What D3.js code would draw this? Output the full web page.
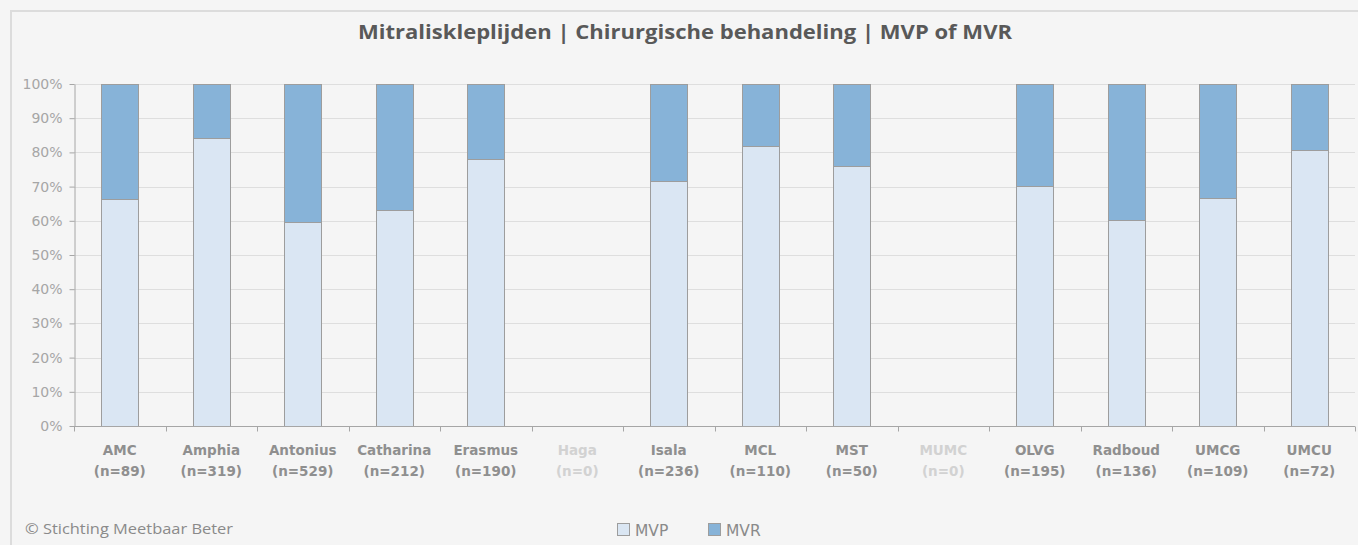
<!DOCTYPE html>
<html>
<head>
<meta charset="utf-8">
<script src="https://cdn.jsdelivr.net/npm/d3@7"></script>
<style>
  body { margin: 0; background: #f5f5f5; }
  svg { display: block; }
</style>
</head>
<body>
<div id="chart"></div>
<script>
let width = 1358
let height = 545

// hospitals, number of patients and share of MVP (%)
let hospitals = ['AMC', 'Amphia', 'Antonius', 'Catharina', 'Erasmus', 'Haga', 'Isala', 'MCL', 'MST', 'MUMC', 'OLVG', 'Radboud', 'UMCG', 'UMCU']
let counts = [89, 319, 529, 212, 190, 0, 236, 110, 50, 0, 195, 136, 109, 72]
let mvp = [66.3, 84.2, 59.6, 63.2, 78.0, 0, 71.6, 81.8, 75.9, 0, 70.2, 60.2, 66.7, 80.6]
let mvr = mvp.map((d, i) => counts[i] > 0 ? 100 - d : 0)
let yTicks = [0, 10, 20, 30, 40, 50, 60, 70, 80, 90, 100]
let series = ['MVP', 'MVR']
let colors = { MVP: '#dae6f3', MVR: '#87b3d8' }

let padding = { left: 74, right: 3, top: 84, bottom: 119 }
let labelFont = 'DejaVu Sans, Verdana, sans-serif'

let svg = d3.select('#chart')
    .append('svg')
    .attr('width', width)
    .attr('height', height)

// frame
svg.append('rect')
    .attr('x', 11)
    .attr('y', 11)
    .attr('width', width + 20)
    .attr('height', height + 20)
    .attr('fill', '#f5f5f5')
    .attr('stroke', '#dcdcdc')
    .attr('stroke-width', 2)

svg.append('text')
    .attr('x', 358)
    .attr('y', 39)
    .attr('textLength', 654)
    .attr('lengthAdjust', 'spacingAndGlyphs')
    .style('font-family', 'Open Sans')
    .style('font-weight', 'bold')
    .style('font-size', '20px')
    .attr('fill', '#595959')
    .text('Mitraliskleplijden | Chirurgische behandeling | MVP of MVR')

let x = d3.scaleBand()
    .domain(hospitals)
    .range([padding.left, width - padding.right])
    .paddingInner(0.595)
    .paddingOuter(0.2975)

let y = d3.scaleLinear()
    .domain([0, 100])
    .range([height - padding.bottom, padding.top])

// grid
svg.append('g')
    .selectAll('line')
    .data(yTicks.slice(1))
    .join('line')
    .attr('x1', padding.left)
    .attr('x2', width - padding.right)
    .attr('y1', d => Math.round(y(d)) + 0.5)
    .attr('y2', d => Math.round(y(d)) + 0.5)
    .attr('stroke', '#dedede')
    .attr('stroke-width', 1)

// y axis
let yAxis = svg.append('g')
    .attr('transform', `translate(${padding.left + 0.5},0)`)
    .call(d3.axisLeft(y).tickValues(yTicks).tickFormat(d => d + '%').tickSize(5).tickSizeOuter(0))
yAxis.select('.domain').attr('stroke', '#a6a6a6')
yAxis.selectAll('.tick line').attr('stroke', '#a6a6a6')
yAxis.selectAll('.tick text')
    .attr('x', -12)
    .attr('fill', '#a6a6a6')
    .style('font-family', labelFont)
    .style('font-size', '14px')

// stacked bars
let stackData = hospitals.map((h, i) => ({ name: h, MVP: mvp[i], MVR: mvr[i] }))
let stacked = d3.stack().keys(series)(stackData)

svg.append('g')
    .selectAll('g')
    .data(stacked)
    .join('g')
    .attr('fill', d => colors[d.key])
    .selectAll('rect')
    .data(d => d.filter(s => s[1] - s[0] > 0))
    .join('rect')
    .attr('x', d => Math.round(x(d.data.name)) + 0.5)
    .attr('width', Math.round(x.bandwidth()))
    .attr('y', d => Math.round(y(d[1])) + 0.5)
    .attr('height', d => Math.round(y(d[0])) - Math.round(y(d[1])))
    .attr('stroke', '#9d9d9d')
    .attr('stroke-width', 1)

// x axis
let step = x.step()
let xAxis = svg.append('g')
    .attr('transform', `translate(0,${Math.round(y(0)) + 0.5})`)
xAxis.append('line')
    .attr('x1', padding.left)
    .attr('x2', width - padding.right)
    .attr('stroke', '#a6a6a6')
xAxis.selectAll('.tick')
    .data(d3.range(hospitals.length + 1))
    .join('line')
    .attr('x1', i => Math.round(padding.left + i * step) + 0.5)
    .attr('x2', i => Math.round(padding.left + i * step) + 0.5)
    .attr('y1', 0)
    .attr('y2', 5)
    .attr('stroke', '#a6a6a6')

let labels = svg.append('g')
    .selectAll('text')
    .data(hospitals)
    .join('text')
    .attr('x', d => x(d) + x.bandwidth() / 2)
    .attr('y', 455)
    .attr('text-anchor', 'middle')
    .style('font-family', labelFont)
    .style('font-weight', 'bold')
    .style('font-size', '13.5px')
    .attr('fill', (d, i) => counts[i] > 0 ? '#8f8f8f' : '#d2d2d2')
labels.append('tspan').text(d => d)
labels.append('tspan')
    .attr('x', d => x(d) + x.bandwidth() / 2)
    .attr('dy', 21)
    .text((d, i) => '(n=' + counts[i] + ')')

// footer
svg.append('text')
    .attr('x', 25)
    .attr('y', 534)
    .attr('textLength', 208)
    .attr('lengthAdjust', 'spacingAndGlyphs')
    .style('font-family', 'Open Sans')
    .style('font-size', '15px')
    .attr('fill', '#8a8a8a')
    .text('\u00a9 Stichting Meetbaar Beter')

// legend
let legend = svg.append('g')
    .selectAll('g')
    .data(series)
    .join('g')
    .attr('transform', (d, i) => `translate(${617 + i * 91},523)`)
legend.append('rect')
    .attr('x', 0.5)
    .attr('y', 0.5)
    .attr('width', 12)
    .attr('height', 12)
    .attr('fill', d => colors[d])
    .attr('stroke', '#9d9d9d')
legend.append('text')
    .attr('x', 18)
    .attr('y', 12.5)
    .style('font-family', labelFont)
    .style('font-size', '15.5px')
    .attr('fill', '#8a8a8a')
    .text(d => d)
</script>
</body>
</html>
